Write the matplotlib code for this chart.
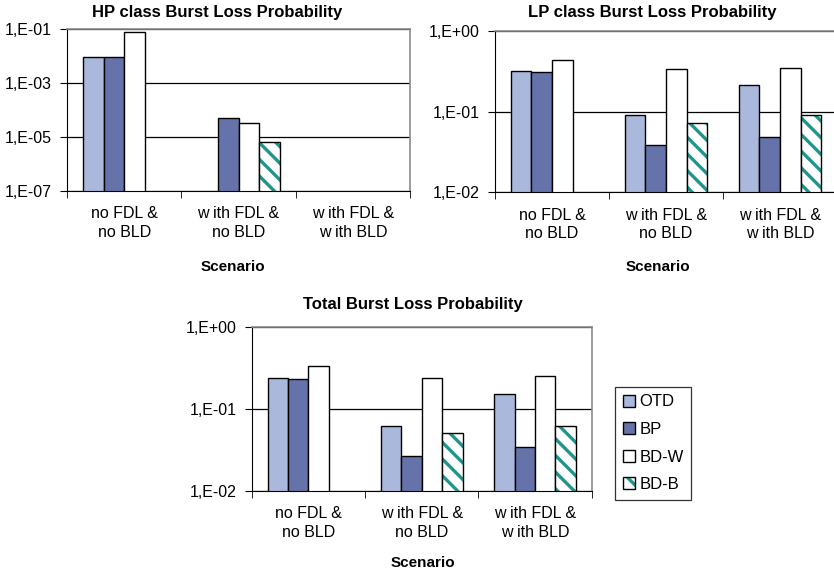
import numpy as np
import matplotlib.pyplot as plt
from matplotlib.patches import Patch
from matplotlib.ticker import FixedLocator, NullLocator

plt.rcParams['font.family'] = ['Liberation Sans', 'DejaVu Sans']
plt.rcParams['hatch.linewidth'] = 2.4

W, H = 834, 575
nan = np.nan

# data
scenarios = ["no FDL &\nno BLD", "w ith FDL &\nno BLD", "w ith FDL &\nw ith BLD"]
schemes = ["OTD", "BP", "BD-W", "BD-B"]

hp_otd = [9e-3, nan, nan]
hp_bp = [9e-3, 5.2e-5, nan]
hp_bdw = [7.8e-2, 3.4e-5, nan]
hp_bdb = [nan, 6.5e-6, nan]

lp_otd = [0.32, 0.090, 0.21]
lp_bp = [0.31, 0.038, 0.049]
lp_bdw = [0.44, 0.34, 0.35]
lp_bdb = [nan, 0.072, 0.090]

tot_otd = [0.24, 0.062, 0.15]
tot_bp = [0.23, 0.0265, 0.034]
tot_bdw = [0.33, 0.24, 0.25]
tot_bdb = [nan, 0.050, 0.062]

hp_ticks = [1e-7, 1e-5, 1e-3, 1e-1]
hp_labels = ["1,E-07", "1,E-05", "1,E-03", "1,E-01"]
dec_ticks = [1e-2, 1e-1, 1e0]
dec_labels = ["1,E-02", "1,E-01", "1,E+00"]

c_otd = "#aab8dc"
c_bp = "#6673aa"
c_teal = "#1e968c"


def pos(l, r, t, b):
    return [l / W, 1 - b / H, (r - l) / W, (b - t) / H]


def draw(ax, otd, bp, bdw, bdb, yticks, ylabels):
    x = np.arange(len(scenarios))
    w = 0.18
    off = (np.arange(4) - 1.5) * w
    ax.bar(x + off[0], otd, w, color=c_otd, edgecolor="black", lw=1, zorder=2)
    ax.bar(x + off[1], bp, w, color=c_bp, edgecolor="black", lw=1, zorder=2)
    ax.bar(x + off[2], bdw, w, color="white", edgecolor="black", lw=1, zorder=2)
    ax.bar(x + off[3], bdb, w, color="white", edgecolor=c_teal, hatch="\\\\", lw=0, zorder=2)
    ax.bar(x + off[3], bdb, w, fill=False, edgecolor="black", lw=1, zorder=3)
    ax.set_yscale("log")
    ax.set_ylim(yticks[0], yticks[-1])
    ax.set_xlim(-0.5, len(scenarios) - 0.5)
    ax.yaxis.set_major_locator(FixedLocator(yticks))
    ax.yaxis.set_minor_locator(NullLocator())
    ax.set_yticklabels(ylabels)
    ax.tick_params(axis="y", length=5, pad=6, labelsize=11.5)
    ax.set_xticks(x, scenarios)
    ax.set_xticks(np.arange(len(scenarios) + 1) - 0.5, minor=True)
    ax.tick_params(axis="x", which="major", length=0, pad=11, labelsize=11.5)
    ax.tick_params(axis="x", which="minor", length=5)
    for lbl in ax.get_xticklabels():
        lbl.set_linespacing(1.3)
    ax.yaxis.grid(True, color="black", lw=0.9)
    ax.set_axisbelow(True)
    for s in ["top", "right"]:
        ax.spines[s].set_color("#8a8a8a")
        ax.spines[s].set_linewidth(1.2)
    for s in ["left", "bottom"]:
        ax.spines[s].set_color("black")


fig = plt.figure(figsize=(W / 100, H / 100), dpi=100)

ax1 = fig.add_axes(pos(67, 410, 29.3, 190.7))
draw(ax1, hp_otd, hp_bp, hp_bdw, hp_bdb, hp_ticks, hp_labels)
ax2 = fig.add_axes(pos(495, 837, 30.7, 192.3))
draw(ax2, lp_otd, lp_bp, lp_bdw, lp_bdb, dec_ticks, dec_labels)
ax3 = fig.add_axes(pos(251.7, 591.7, 326.7, 490.7))
draw(ax3, tot_otd, tot_bp, tot_bdw, tot_bdb, dec_ticks, dec_labels)

tkw = dict(ha="center", va="center", fontweight="bold")
fig.text(217 / W, 1 - 12 / H, "HP class Burst Loss Probability", size=12, **tkw)
fig.text(652 / W, 1 - 13 / H, "LP class Burst Loss Probability", size=12, **tkw)
fig.text(413 / W, 1 - 304 / H, "Total Burst Loss Probability", size=12, **tkw)
fig.text(233 / W, 1 - 267 / H, "Scenario", size=11, **tkw)
fig.text(658 / W, 1 - 267 / H, "Scenario", size=11, **tkw)
fig.text(423 / W, 1 - 563 / H, "Scenario", size=11, **tkw)

handles = [
    Patch(facecolor=c_otd, edgecolor="black"),
    Patch(facecolor=c_bp, edgecolor="black"),
    Patch(facecolor="white", edgecolor="black"),
    (Patch(facecolor="white", edgecolor=c_teal, hatch="\\\\", lw=0),
     Patch(fill=False, edgecolor="black")),
]
leg = fig.legend(handles, schemes, loc="upper left",
                 bbox_to_anchor=(615 / W, 1 - 387 / H), frameon=True,
                 fancybox=False, edgecolor="black", fontsize=12,
                 handlelength=0.75, handleheight=0.75, handletextpad=0.25,
                 labelspacing=0.75, borderpad=0.45, borderaxespad=0)
leg.get_frame().set_linewidth(0.9)

fig.savefig("out.png", dpi=100)
